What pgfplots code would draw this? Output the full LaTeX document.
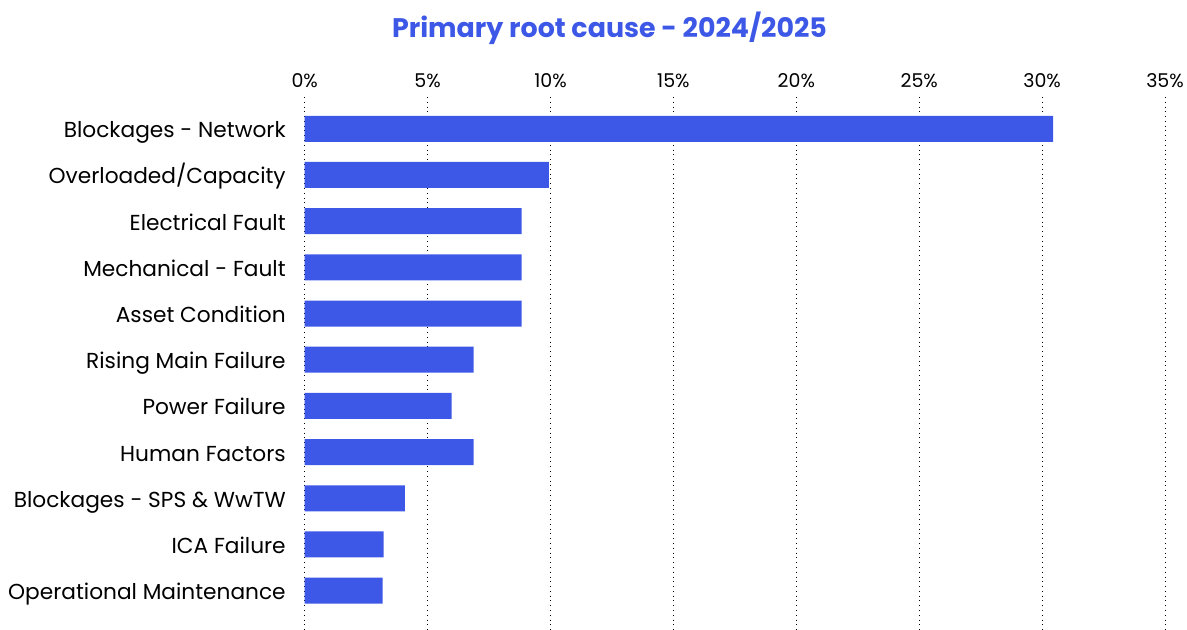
\documentclass[border=0pt]{standalone}
\usepackage{fontspec}
\setmainfont{Poppins}
\usepackage{pgfplots}
\pgfplotsset{compat=1.18}
\definecolor{barblue}{HTML}{3D58E6}
\begin{document}
\begin{tikzpicture}
\path[use as bounding box] (-152.5pt,0) rectangle (441.5pt,315pt);
\begin{axis}[
  at={(0,0)}, anchor=south west,
  scale only axis, width=430.5pt, height=266.5pt,
  xbar, bar width=13pt,
  xmin=0, xmax=35, ymin=-0.69, ymax=10.84, y dir=reverse,
  axis line style={draw=none},
  xtick={0,5,...,35},
  xticklabel={\pgfmathprintnumber{\tick}\%},
  xticklabel pos=upper,
  ytick={0,...,10},
  yticklabels={Blockages - Network, Overloaded/Capacity, Electrical Fault,
    Mechanical - Fault, Asset Condition, Rising Main Failure, Power Failure,
    Human Factors, Blockages - SPS \& WwTW, ICA Failure, Operational Maintenance},
  major tick length=0pt,
  xmajorgrids, grid style={black, dotted, line width=0.5pt},
  /pgf/number format/assume math mode=true,
  x tick label style={font=\fontsize{9.5}{11}\selectfont, yshift=1pt},
  y tick label style={font=\fontsize{10.85}{12}\selectfont, anchor=east,
    text height=0.9em, text depth=0.2em, xshift=-6pt, yshift=-1pt},
]
\addplot[fill=barblue, draw=none] coordinates {
  (30.45,0) (9.93,1) (8.82,2) (8.82,3) (8.82,4) (6.87,5)
  (5.98,6) (6.87,7) (4.07,8) (3.21,9) (3.17,10)
};
\end{axis}
\node[font=\fontsize{13.45}{15}\selectfont\bfseries, text=barblue] at (152.5pt,301pt) {Primary root cause - 2024/2025};
\end{tikzpicture}
\end{document}
